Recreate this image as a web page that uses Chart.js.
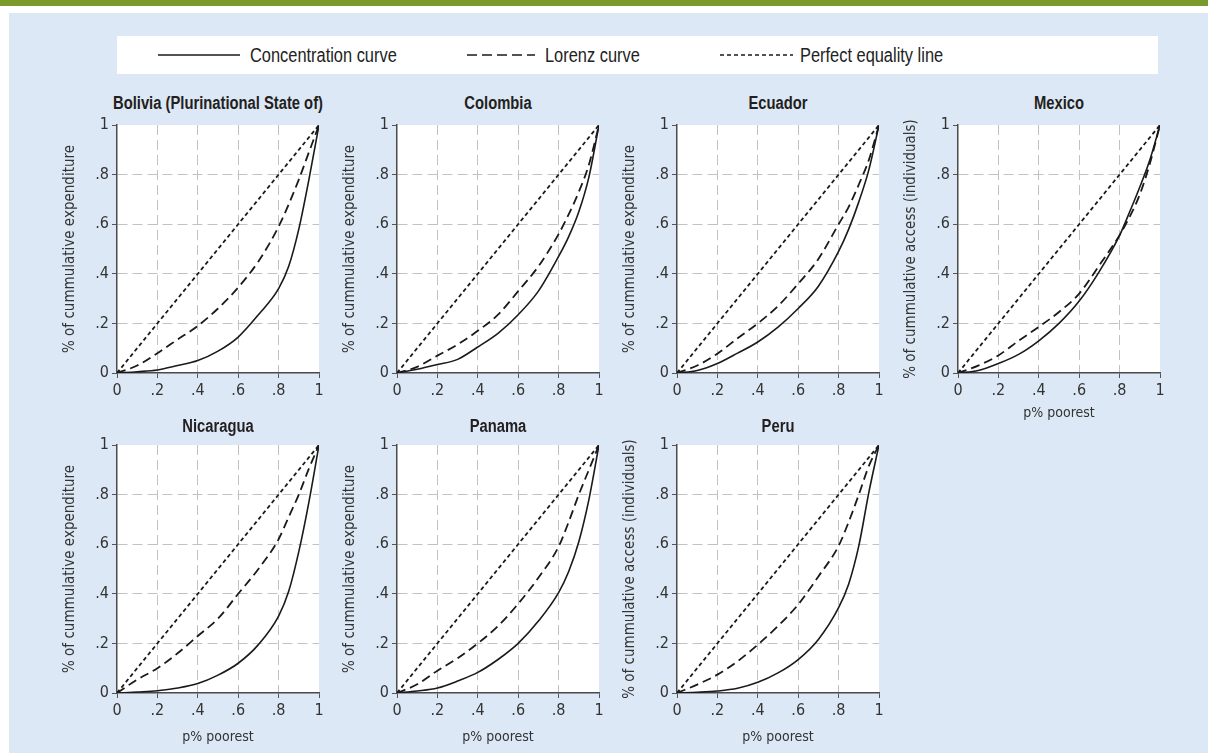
<!DOCTYPE html>
<html>
<head>
<meta charset="utf-8">
<script src="https://cdn.jsdelivr.net/npm/chart.js@4.4.1/dist/chart.umd.min.js"></script>
<style>
  html, body { margin: 0; padding: 0; width: 1208px; height: 753px; overflow: hidden; background: #fff;
    font-family: 'Liberation Sans', Arial, sans-serif; }
  #topbar { position: absolute; left: 0; top: 0; width: 1208px; height: 6px; background: #7a9a2c; }
  #panel { position: absolute; left: 9px; top: 13px; width: 1199px; height: 740px; background: #dce8f5; }
  #legend { position: absolute; left: 117px; top: 36px; width: 1041px; height: 38px; background: #fff; }
  .sample { position: absolute; top: 17px; }
  .ltxt { position: absolute; top: 0; height: 38px; line-height: 38px; font-size: 20px; color: #222;
    white-space: nowrap; transform: scaleX(0.82); transform-origin: left center; }
  canvas { position: absolute; }
  .ttl { position: absolute; width: 300px; text-align: center; font-weight: bold; font-size: 18px; color: #231f20;
    white-space: nowrap; line-height: 20px; transform: scaleX(0.82); transform-origin: center center; }
</style>
</head>
<body>
<div id="topbar"></div>
<div id="panel"></div>
<div id="legend">
  <svg class="sample" style="left:41px" width="82" height="4"><line x1="0" y1="2" x2="82" y2="2" stroke="#1a1a1a" stroke-width="1.6"/></svg>
  <div class="ltxt" style="left:133px">Concentration curve</div>
  <svg class="sample" style="left:350px" width="68" height="4"><line x1="0" y1="2" x2="68" y2="2" stroke="#1a1a1a" stroke-width="1.6" stroke-dasharray="10 5"/></svg>
  <div class="ltxt" style="left:428px">Lorenz curve</div>
  <svg class="sample" style="left:603px" width="73" height="4"><line x1="0" y1="2" x2="73" y2="2" stroke="#1a1a1a" stroke-width="1.6" stroke-dasharray="4 3"/></svg>
  <div class="ltxt" style="left:683px">Perfect equality line</div>
</div>
<div id="charts"></div>
<script>
// shared x positions (p% poorest) for the curves
const pPoints = [0, 0.1, 0.2, 0.3, 0.4, 0.5, 0.6, 0.7, 0.8, 0.85, 0.9, 0.95, 1];
const equalityX = [0, 1];
const equalityY = [0, 1];
const tickValues = [0, 0.2, 0.4, 0.6, 0.8, 1];
const tickLabels = ['0', '.2', '.4', '.6', '.8', '1'];

const countries = ['Bolivia (Plurinational State of)', 'Colombia', 'Ecuador', 'Mexico', 'Nicaragua', 'Panama', 'Peru'];
const yTitles = [
  '% of cummulative expenditure', '% of cummulative expenditure', '% of cummulative expenditure',
  '% of cummulative access (individuals)', '% of cummulative expenditure', '% of cummulative expenditure',
  '% of cummulative access (individuals)'
];
const showXTitle = [false, false, false, true, true, true, true];

// concentration curves
const boliviaConc   = [0, 0.005, 0.012, 0.03, 0.05, 0.088, 0.145, 0.235, 0.34, 0.43, 0.58, 0.78, 1];
const colombiaConc  = [0, 0.015, 0.034, 0.055, 0.105, 0.16, 0.235, 0.33, 0.47, 0.55, 0.65, 0.79, 1];
const ecuadorConc   = [0, 0.01, 0.038, 0.08, 0.125, 0.185, 0.26, 0.35, 0.49, 0.58, 0.69, 0.82, 1];
const mexicoConc    = [0, 0.01, 0.038, 0.075, 0.13, 0.2, 0.29, 0.41, 0.555, 0.65, 0.75, 0.86, 1];
const nicaraguaConc = [0, 0.004, 0.009, 0.02, 0.038, 0.072, 0.12, 0.195, 0.31, 0.41, 0.57, 0.77, 1];
const panamaConc    = [0, 0.008, 0.02, 0.048, 0.083, 0.135, 0.2, 0.29, 0.405, 0.49, 0.61, 0.78, 1];
const peruConc      = [0, 0.003, 0.008, 0.019, 0.043, 0.081, 0.135, 0.216, 0.344, 0.44, 0.593, 0.81, 1];

// Lorenz curves
const boliviaLorenz   = [0, 0.03, 0.08, 0.135, 0.19, 0.26, 0.345, 0.45, 0.59, 0.68, 0.78, 0.89, 1];
const colombiaLorenz  = [0, 0.025, 0.07, 0.115, 0.17, 0.235, 0.33, 0.43, 0.56, 0.64, 0.73, 0.84, 1];
const ecuadorLorenz   = [0, 0.03, 0.078, 0.14, 0.2, 0.27, 0.36, 0.46, 0.6, 0.67, 0.76, 0.86, 1];
const mexicoLorenz    = [0, 0.03, 0.071, 0.13, 0.186, 0.246, 0.32, 0.435, 0.556, 0.63, 0.72, 0.845, 1];
const nicaraguaLorenz = [0, 0.054, 0.1, 0.16, 0.23, 0.30, 0.40, 0.50, 0.62, 0.71, 0.80, 0.905, 1];
const panamaLorenz    = [0, 0.035, 0.09, 0.14, 0.2, 0.27, 0.36, 0.465, 0.59, 0.69, 0.80, 0.90, 1];
const peruLorenz      = [0, 0.034, 0.074, 0.128, 0.195, 0.27, 0.357, 0.47, 0.593, 0.69, 0.80, 0.916, 1];

const concSeries = [boliviaConc, colombiaConc, ecuadorConc, mexicoConc, nicaraguaConc, panamaConc, peruConc];
const lorenzSeries = [boliviaLorenz, colombiaLorenz, ecuadorLorenz, mexicoLorenz, nicaraguaLorenz, panamaLorenz, peruLorenz];

Chart.defaults.font.family = "'DejaVu Sans Condensed', 'Liberation Sans', sans-serif";
Chart.defaults.color = '#333';

// panel geometry
const colX = [117, 397, 677, 958];
const rowY = [125, 445];
const titleOffset = [22, 19];
const xTitlePad = [7, 3];
const AXIS_W = 66, TOP_PAD = 30, RIGHT_PAD = 10, PLOT_W = 202, PLOT_H = 248, XAXIS_H = 56;

const plotBg = {
  id: 'plotBg',
  beforeDraw(chart) {
    const { ctx, chartArea: a } = chart;
    ctx.save();
    ctx.fillStyle = '#ffffff';
    ctx.fillRect(a.left, a.top, a.width, a.height);
    ctx.restore();
  }
};

function toXY(xs, ys) {
  return xs.map((x, i) => ({ x: x, y: ys[i] }));
}

const gridColor = c => (c.tick && c.tick.value > 0.001 && c.tick.value < 0.999) ? '#c2c2c2' : 'rgba(0,0,0,0)';

function axisOpts(isX, i, row) {
  return {
    type: 'linear',
    min: 0,
    max: 1,
    afterBuildTicks: s => { s.ticks = tickValues.map(v => ({ value: v })); },
    afterFit: s => { if (isX) s.height = XAXIS_H; else s.width = AXIS_W; },
    ticks: {
      callback: (v, idx) => tickLabels[idx],
      font: { size: 16 },
      color: '#333',
      padding: 3,
      maxRotation: 0,
      autoSkip: false
    },
    grid: { color: gridColor, lineWidth: 1, tickColor: '#555', tickLength: 5, tickWidth: 1 },
    border: { color: '#4a4a4a', width: 1.5, dash: [10, 5] },
    title: isX
      ? { display: showXTitle[i], text: 'p% poorest', font: { size: 14 }, color: '#333', padding: { top: 0, bottom: xTitlePad[row] } }
      : { display: true, text: yTitles[i], font: { size: 15 }, color: '#333', padding: { top: 10, bottom: 0 } }
  };
}

const holder = document.getElementById('charts');
countries.forEach((name, i) => {
  const col = i % 4, row = Math.floor(i / 4);
  const left = colX[col], top = rowY[row];

  const ttl = document.createElement('div');
  ttl.className = 'ttl';
  ttl.style.left = (left + PLOT_W / 2 - 150) + 'px';
  ttl.style.top = (top - titleOffset[row] - 10) + 'px';
  ttl.textContent = name;
  holder.appendChild(ttl);

  const cv = document.createElement('canvas');
  cv.width = AXIS_W + PLOT_W + RIGHT_PAD;
  cv.height = TOP_PAD + PLOT_H + XAXIS_H;
  cv.style.left = (left - AXIS_W) + 'px';
  cv.style.top = (top - TOP_PAD) + 'px';
  holder.appendChild(cv);

  new Chart(cv, {
    type: 'line',
    data: {
      datasets: [
        { label: 'Concentration curve', data: toXY(pPoints, concSeries[i]), borderColor: '#1a1a1a',
          borderWidth: 1.6, pointRadius: 0, cubicInterpolationMode: 'monotone', fill: false },
        { label: 'Lorenz curve', data: toXY(pPoints, lorenzSeries[i]), borderColor: '#1a1a1a',
          borderWidth: 1.8, borderDash: [9, 5], pointRadius: 0, cubicInterpolationMode: 'monotone', fill: false },
        { label: 'Perfect equality line', data: toXY(equalityX, equalityY), borderColor: '#1a1a1a',
          borderWidth: 1.8, borderDash: [4, 3], pointRadius: 0, fill: false }
      ]
    },
    options: {
      responsive: false,
      animation: false,
      devicePixelRatio: 1,
      layout: { padding: { top: TOP_PAD, right: RIGHT_PAD, left: 0, bottom: 0 } },
      plugins: { legend: { display: false }, tooltip: { enabled: false } },
      scales: { x: axisOpts(true, i, row), y: axisOpts(false, i, row) }
    },
    plugins: [plotBg]
  });
});
</script>
</body>
</html>
